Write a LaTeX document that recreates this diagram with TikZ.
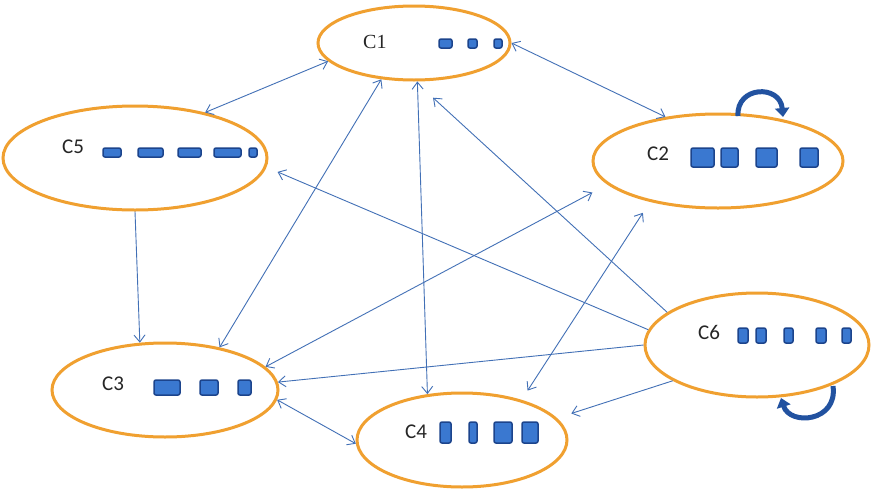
\documentclass[tikz,border=0pt]{standalone}
\usepackage{fontspec}
\setmainfont{Carlito}
\newfontfamily\serifc{Liberation Serif}
\usetikzlibrary{shapes.geometric,arrows.meta}
\definecolor{ringorange}{RGB}{240,160,48}
\definecolor{linkblue}{RGB}{66,112,182}
\definecolor{boxfill}{RGB}{58,120,208}
\definecolor{boxedge}{RGB}{28,68,140}
\definecolor{loopblue}{RGB}{34,82,160}

\begin{document}
\begin{tikzpicture}[x=1pt,y=-1pt,
    cluster/.style={ellipse,draw=ringorange,line width=3pt,inner sep=0pt},
    lbl/.style={anchor=west,inner sep=0pt,font=\fontsize{21}{21}\selectfont,text=black!85},
    link/.style={linkblue,line width=0.9pt,>={Straight Barb[length=7pt,width=11pt]}},
    blk/.style={draw=boxedge,fill=boxfill,line width=1.5pt,rounded corners=2pt},
    loopar/.style={loopblue,line width=5pt,-{Triangle[length=9pt,width=14pt]}}]
    \fill[white] (0,0) rectangle (873,493);
    \useasboundingbox (0,0) rectangle (873,493);

    \node[cluster,minimum width=192pt,minimum height=74pt] (C1) at (414,43) {};
    \node[cluster,minimum width=264pt,minimum height=104pt] (C5) at (135,158) {};
    \node[cluster,minimum width=250pt,minimum height=94pt] (C2) at (718,161) {};
    \node[cluster,minimum width=224pt,minimum height=104pt] (C6) at (757,345) {};
    \node[cluster,minimum width=226pt,minimum height=94pt] (C3) at (165,390) {};
    \node[cluster,minimum width=210pt,minimum height=94pt] (C4) at (462,440) {};

    \node[lbl,font=\serifc\fontsize{20}{20}\selectfont] (c1lbl) at (363,42) {C1};
    \node[lbl] (c5lbl) at (62,147) {C5};
    \node[lbl] (c2lbl) at (647,154) {C2};
    \node[lbl] (c6lbl) at (698,332) {C6};
    \node[lbl] (c3lbl) at (102,384) {C3};
    \node[lbl] (c4lbl) at (405,432) {C4};

    \foreach \xa/\ya/\xb/\yb in {439/39/452/48, 468/39/477/48, 494/39/502/48,
        103/148/121/157, 138/148/163/157, 178/148/201/157, 214/148/241/157, 249/148/257/157,
        691/148/714/167, 721/148/738/167, 756/148/777/167, 800/148/818/167,
        738/328/748/343, 756/328/766/343, 784/328/793/343, 816/328/826/343, 842/328/851/343,
        154/380/180/395, 200/380/218/395, 238/380/251/395,
        440/422/451/443, 469/422/477/443, 494/422/512/443, 522/422/538/443}
        \draw[blk] (\xa,\ya) rectangle (\xb,\yb);

    \draw[link,<->] (C5.33) -- (C1.192);
    \draw[link,<->] (C1.0) -- (C2.140);
    \draw[link,->] (C5.270) -- (C3.118);
    \draw[link,<->] (C3.38) -- (C1.228);
    \draw[link,<->] (C1.275) -- (C4.127);
    \draw[link,->,shorten >=24pt] (C6.160) -- (C1.272);
    \draw[link,->,shorten >=12pt] (C6.172) -- (C5.-4);
    \draw[link,<->,shorten >=17pt] (C3.13) -- (C2.192);
    \draw[link,<->,shorten <=11pt,shorten >=13pt] (C4.34) -- (C2.211);
    \draw[link,->] (C6.180) -- (C3.4);
    \draw[link,->,shorten >=15pt] (C6.203) -- (C4.13);
    \draw[link,<->] (C3.-5) -- (C4.182);

    \draw[loopar] (738,116) .. controls (736,86) and (780,84) .. (783,117);
    \draw[loopar] (833,386) .. controls (838,422) and (790,426) .. (781,398);
\end{tikzpicture}
\end{document}
